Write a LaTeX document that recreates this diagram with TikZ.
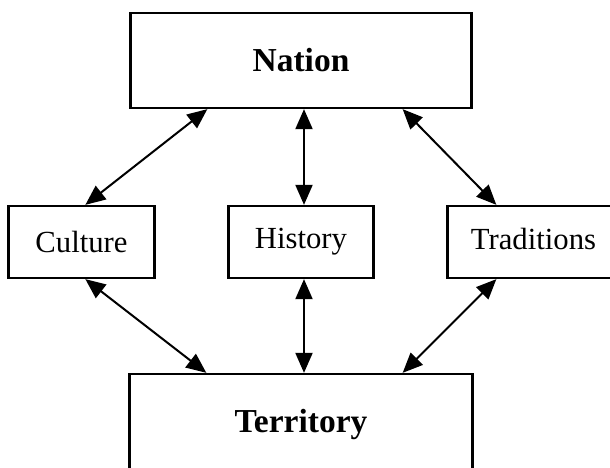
\documentclass[tikz,border=0pt]{standalone}
\usepackage{fontspec}
\setmainfont{Liberation Serif}
\usetikzlibrary{arrows.meta,positioning}
\newcommand{\lnk}[2]{\draw (#1) -- (#2); }

\begin{document}
\begin{tikzpicture}[x=1pt,y=-1pt,<->,>={Triangle[length=20pt,width=17pt]},line width=2pt,
  every node/.style={draw,line width=2.3pt,inner sep=0pt,minimum height=72pt,font=\fontsize{30.7}{36}\selectfont},
  big/.style={font=\fontsize{33.5}{40}\selectfont\bfseries,minimum width=341pt}]
  \useasboundingbox (0,0) rectangle (610,468);
  \clip (0,0) rectangle (610,468);
  \node[big,minimum height=95pt] (nation) at (301,60.5) {Nation};
  \node[minimum width=145pt] (history) [below=95.7pt of nation] {History};
  \node[minimum width=146pt] (culture) [left=71.7pt of history] {Culture};
  \node[minimum width=172pt,text depth=6pt] (traditions) [right=71.7pt of history] {Traditions};
  \node[big,minimum width=343pt,minimum height=100pt] (territory) [below=93.7pt of history] {Territory};
  \lnk{[xshift=78pt]nation.south west}{[xshift=78pt]culture.north west}
  \lnk{[xshift=3pt]nation.south}{[xshift=3pt]history.north}
  \lnk{[xshift=-70pt]nation.south east}{[xshift=50pt]traditions.north west}
  \lnk{[xshift=78pt]culture.south west}{[xshift=78pt]territory.north west}
  \lnk{[xshift=3pt]history.south}{[xshift=3pt]territory.north}
  \lnk{[xshift=50pt]traditions.south west}{[xshift=-71pt]territory.north east}
\end{tikzpicture}
\end{document}
